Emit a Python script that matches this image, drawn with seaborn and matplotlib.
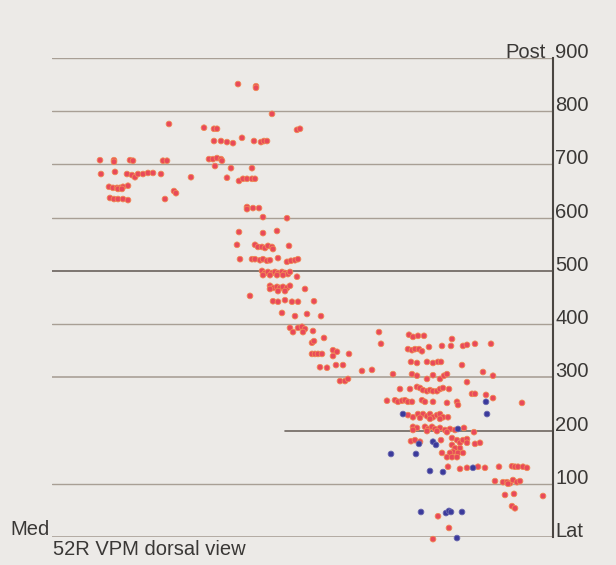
import matplotlib
matplotlib.use("Agg")
import matplotlib.pyplot as plt
import matplotlib.transforms as mtransforms
import numpy as np
import pandas as pd
import seaborn as sns

# Recording sites, 52R VPM, dorsal view (medial -> lateral, anterior -> posterior)
red_x = [48, 62, 62, 78, 81, 111, 115, 49, 63, 75, 80, 83, 86, 91, 96, 101, 109, 139,
         57, 61, 65, 68, 71, 76, 66, 70, 122, 124, 58, 62, 66, 71, 76, 113,
         186, 204, 204, 220, 117, 152, 162, 165, 245, 248, 162, 169, 175, 181, 190,
         202, 209, 212, 215, 157, 161, 165, 169, 170, 163, 179, 200, 175, 187, 191,
         195, 200, 203, 195, 195, 201, 207, 211, 235,
         187, 211, 225, 185, 203, 206, 210, 213, 216, 220, 221, 237, 188, 200, 203,
         208, 211, 215, 218, 226, 235, 239, 243, 246,
         210, 213, 216, 220, 223, 226, 230, 233, 236, 211, 218, 225, 231, 238, 245,
         218, 221, 225, 228, 231, 235, 238, 226, 233, 218, 253, 198,
         221, 226, 233, 240, 246, 262, 230, 243, 255, 269,
         238, 241, 246, 250, 253, 251, 261, 272, 260, 262, 260, 263, 266, 270,
         281, 285, 281, 297, 268, 275, 284, 291, 288, 293, 296, 310, 320, 341, 327, 329,
         357, 361, 366, 372, 356, 360, 363, 367, 370, 377, 390, 399, 400, 411, 415, 423, 439,
         359, 365, 375, 381, 386, 389, 410, 360, 365, 375, 381, 388, 392, 395, 415, 431, 441,
         348, 358, 365, 368, 371, 375, 378, 381, 385, 388, 391, 397, 420, 423, 434, 441,
         335, 343, 346, 350, 353, 356, 360, 370, 373, 381, 395, 405, 406, 470,
         356, 361, 366, 371, 375, 378, 381, 385, 388, 391, 396, 368, 378, 388,
         361, 365, 373, 376, 380, 383, 388, 393, 398, 403, 361, 375, 385, 395, 412, 422,
         359, 363, 368, 389,
         400, 405, 408, 411, 415, 415, 400, 403, 408, 401, 406, 411, 398, 390, 395, 400, 405,
         423, 428, 396, 408, 415, 426, 433, 447, 460, 463, 466, 471, 475,
         443, 451, 455, 458, 461, 465, 468, 456, 453, 462, 491, 460, 463, 386, 397, 381]
red_y = [708, 708, 705, 708, 707, 707, 707, 682, 686, 682, 680, 676, 682, 682, 684, 684, 682, 676,
         658, 656, 656, 656, 658, 660, 654, 654, 650, 646, 637, 635, 635, 635, 633, 635,
         851, 847, 844, 795, 776, 769, 767, 767, 765, 767, 744, 744, 742, 740, 750,
         744, 742, 744, 744, 710, 710, 712, 710, 707, 697, 693, 693, 675, 669, 673,
         673, 673, 673, 620, 616, 618, 618, 601, 599,
         573, 571, 575, 549, 549, 545, 545, 543, 547, 545, 541, 547, 522, 522, 522,
         520, 522, 519, 520, 524, 517, 519, 520, 522,
         500, 496, 498, 496, 498, 496, 498, 496, 494, 492, 492, 492, 492, 498, 489,
         472, 468, 470, 468, 470, 468, 472, 462, 462, 466, 466, 453,
         443, 442, 445, 442, 442, 443, 421, 415, 419, 415,
         393, 385, 393, 395, 391, 385, 387, 374, 365, 368, 344, 344, 344, 344,
         351, 348, 340, 344, 319, 318, 323, 323, 293, 293, 297, 312, 314, 306, 385, 363,
         380, 376, 378, 378, 353, 351, 353, 353, 349, 357, 359, 359, 372, 359, 361, 363, 363,
         329, 327, 329, 327, 329, 329, 323, 306, 303, 297, 304, 297, 303, 306, 291, 310, 303,
         278, 278, 282, 280, 276, 274, 276, 274, 274, 278, 280, 278, 269, 269, 267, 261,
         256, 257, 254, 256, 257, 254, 254, 257, 254, 254, 252, 254, 248, 252,
         229, 225, 231, 231, 227, 231, 225, 229, 231, 225, 225, 224, 222, 222,
         207, 205, 207, 203, 207, 203, 205, 201, 203, 201, 201, 199, 199, 197, 205, 197,
         180, 182, 179, 182,
         186, 182, 177, 182, 184, 177, 173, 167, 167, 160, 158, 158, 158, 158, 150, 150, 150,
         175, 177, 132, 128, 130, 132, 130, 132, 133, 132, 132, 132, 130,
         105, 103, 103, 101, 107, 103, 105, 100, 79, 81, 77, 58, 54, 39, 17, -4]

blue_x = [351, 434, 435, 406, 367, 381, 384, 339, 364, 378, 391, 421,
          369, 394, 397, 399, 410, 405]
blue_y = [231, 254, 231, 203, 175, 179, 173, 156, 156, 124, 122, 130,
          47, 45, 49, 47, 47, -2]

y_ticks = [0, 100, 200, 300, 400, 500, 600, 700, 800, 900]
y_tick_labels = ["Lat", "100", "200", "300", "400", "500", "600", "700", "800", "900"]

df = pd.DataFrame({
    "ml": red_x + blue_x,
    "ap": red_y + blue_y,
    "type": ["red"] * len(red_x) + ["blue"] * len(blue_x),
})

BG = "#ECEAE7"
TXT = "#3A3836"
FONT = ["Liberation Sans", "DejaVu Sans"]
FS = 14.5

sns.set_theme(style="white")
plt.rcParams["font.family"] = FONT

fig = plt.figure(figsize=(6.16, 5.65), dpi=100, facecolor=BG)
ax = fig.add_axes([52 / 616, 28 / 565, 501 / 616, 479 / 565])
ax.set_facecolor(BG)

# horizontal guide lines
line_style = {
    0: ("#A39A90", 1.1, 0.0),
    100: ("#A89F95", 1.0, 0.0),
    200: ("#6F6760", 1.2, 0.465),
    300: ("#A39A90", 1.1, 0.0),
    400: ("#A89F95", 1.0, 0.0),
    500: ("#6A625C", 1.2, 0.0),
    600: ("#A89F95", 1.0, 0.0),
    700: ("#A89F95", 1.0, 0.0),
    800: ("#A89F95", 1.0, 0.0),
    900: ("#A89F95", 1.0, 0.0),
}
for v in y_ticks:
    c, lw, xmin = line_style[v]
    ax.axhline(v, xmin=xmin, xmax=1.0, color=c, lw=lw, zorder=1)

sns.scatterplot(data=df, x="ml", y="ap", hue="type",
                palette={"red": "#E9495A", "blue": "#3B3A9C"},
                s=17, linewidth=0.6, edgecolor=None, legend=False,
                ax=ax, zorder=3, clip_on=False)
coll = ax.collections[-1]
edge = ["#F08A55" if t == "red" else "#6B6AAE" for t in df["type"]]
coll.set_edgecolors(edge)

ax.set_xlim(0, 501)
ax.set_ylim(0, 900)
for side in ["top", "left", "bottom"]:
    ax.spines[side].set_visible(False)
ax.spines["right"].set_color("#4A4642")
ax.spines["right"].set_linewidth(1.5)

ax.set_xticks([])
ax.yaxis.tick_right()
ax.set_yticks(y_ticks, y_tick_labels)
ax.tick_params(axis="y", length=0, pad=1.5, labelsize=FS, labelcolor=TXT)
for lab in ax.get_yticklabels():
    lab.set_verticalalignment("baseline")
    lab.set_fontfamily(FONT)
ax.set_xlabel("")
ax.set_ylabel("")

trans = mtransforms.blended_transform_factory(ax.transAxes, ax.transData)
ax.text(0.985, 900, "Post", transform=trans, ha="right", va="baseline",
        fontsize=FS, color=TXT, family=FONT)
ax.text(-0.004, 3, "Med", transform=trans, ha="right", va="baseline",
        fontsize=FS, color=TXT, family=FONT)
fig.text(53 / 616, 10 / 565, "52R VPM dorsal view", ha="left", va="baseline",
         fontsize=FS, color=TXT, family=FONT)

fig.savefig("out.png", dpi=100, facecolor=BG)
